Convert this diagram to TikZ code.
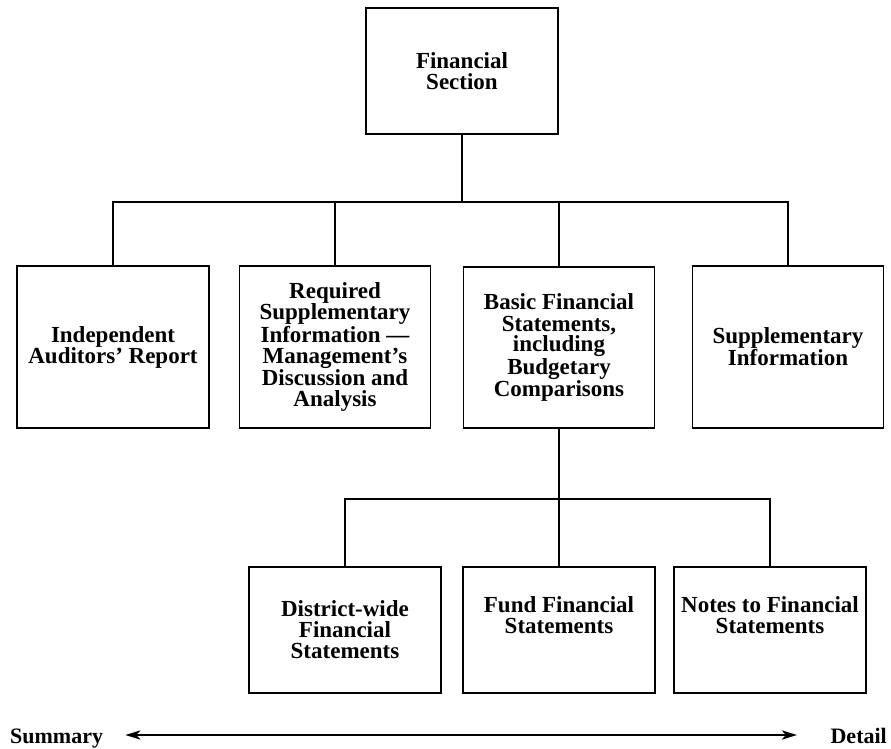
\documentclass[tikz,border=0pt]{standalone}
\usepackage{fontspec}
\setmainfont{Liberation Serif}
\usetikzlibrary{arrows.meta}
\begin{document}
\begin{tikzpicture}[x=1pt,y=-1pt,
  box/.style={draw,line width=1.5pt,inner sep=0pt,align=center,
    font=\bfseries\fontsize{23pt}{21pt}\selectfont},
  lbl/.style={inner sep=0pt,font=\bfseries\fontsize{22pt}{21pt}\selectfont},
  conn/.style={line width=1.5pt},
  scale arrow/.style={line width=2.6pt,{Stealth[length=15pt,width=9pt,inset=4pt]}-{Stealth[length=15pt,width=9pt,inset=4pt]}}]
\useasboundingbox (0,0) rectangle (891,749);
\node[box,minimum width=192pt,minimum height=126pt] (top) at (462,71) {Financial\\Section};
\node[box,minimum width=192pt,minimum height=162pt] (A) at (113,347) {Independent\\Auditors' Report};
\node[box,minimum width=191pt,minimum height=162pt] (B) at (335,347) {Required\\Supplementary\\Information ---\\Management's\\Discussion and\\Analysis};
\node[box,minimum width=191pt,minimum height=161pt] (C) at (559,347.5) {Basic Financial\\Statements,\\including\\Budgetary\\Comparisons};
\node[box,minimum width=191pt,minimum height=162pt] (D) at (788,347) {Supplementary\\Information};
\node[box,minimum width=192pt,minimum height=126pt] (E) at (345,630) {District-wide\\Financial\\Statements};
\node[box,minimum width=192pt,minimum height=126pt] (F) at (559,630) {Fund Financial\\Statements\\[8pt]};
\node[box,minimum width=192pt,minimum height=126pt] (G) at (770,630) {Notes to Financial\\Statements\\[8pt]};
\coordinate (bus) at (462,202);
\coordinate (sbus) at (559,499);
\draw[conn] (top.south) -- (bus);
\draw[conn] (A.north) -- (A.north |- bus) -- (D.north |- bus) -- (D.north);
\draw[conn] (B.north) -- (B.north |- bus);
\draw[conn] (C.north) -- (C.north |- bus);
\draw[conn] (C.south) -- (F.north);
\draw[conn] (E.north) -- (E.north |- sbus) -- (G.north |- sbus) -- (G.north);
\node[lbl,anchor=base west] (sum) at (10,743) {Summary};
\node[lbl,anchor=base east] (det) at (887,743) {Detail};
\coordinate (al) at (122,735);
\coordinate (ar) at (797,735);
\draw[scale arrow] (sum.east |- al) ++(22pt,0) -- (ar);
\end{tikzpicture}
\end{document}
